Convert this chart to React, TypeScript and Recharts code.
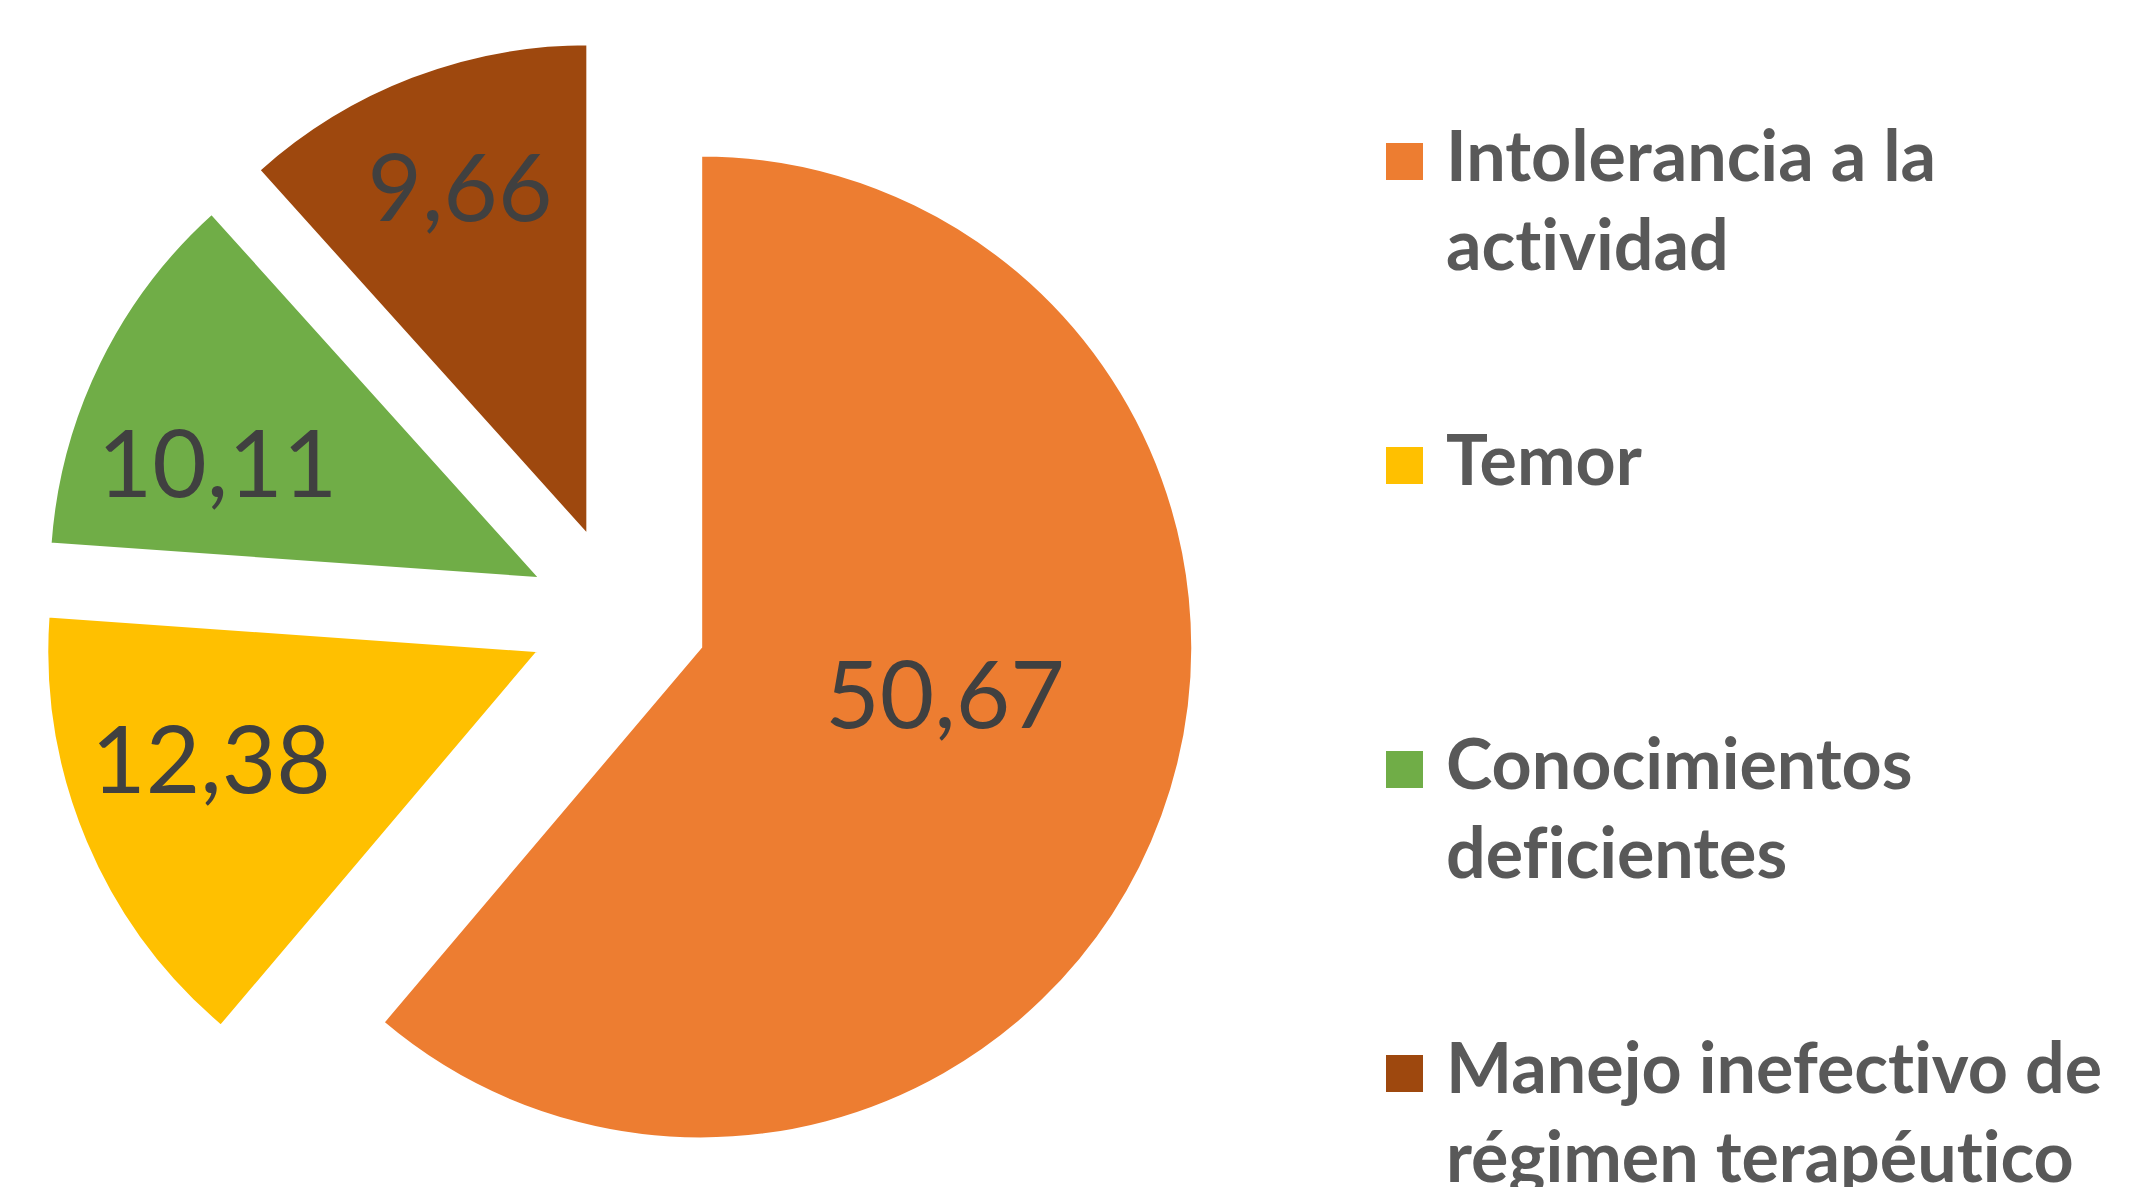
import { PieChart, Pie, Cell, Sector, Legend } from "recharts";

const categories = [
  "Intolerancia a la actividad",
  "Temor",
  "Conocimientos deficientes",
  "Manejo inefectivo de régimen terapéutico",
];
const values = [50.67, 12.38, 10.11, 9.66];
const colors = ["#ED7D31", "#FFC000", "#70AD47", "#9E480E"];

const data = categories.map((name, i) => ({ name, value: values[i] }));

const RADIAN = Math.PI / 180;
// every slice pulled out from the centre, like the Excel "point explosion"
const EXPLODE = 87;
// where each value label sits inside its slice (fraction of radius, angle nudge)
const LABEL_R = [0.505, 0.7, 0.7, 0.76];
const LABEL_TURN = [9.7, -5, 5.9, -1];

const fmt = (v: number) => v.toFixed(2).replace(".", ",");

function ExplodedSlice(props: any) {
  const { cx, cy, midAngle, innerRadius, outerRadius, startAngle, endAngle, fill, index } = props;
  const x0 = cx + EXPLODE * Math.cos(-midAngle * RADIAN);
  const y0 = cy + EXPLODE * Math.sin(-midAngle * RADIAN);
  const a = (midAngle + LABEL_TURN[index]) * RADIAN;
  const r = outerRadius * LABEL_R[index];
  const lx = x0 + r * Math.cos(-a);
  const ly = y0 + r * Math.sin(-a);

  return (
    <g>
      <Sector
        cx={x0}
        cy={y0}
        innerRadius={innerRadius}
        outerRadius={outerRadius}
        startAngle={startAngle}
        endAngle={endAngle}
        fill={fill}
        fillOpacity={1}
        stroke="#ffffff"
        strokeWidth={3}
      />
      <text
        x={lx}
        y={ly}
        textAnchor="middle"
        dominantBaseline="central"
        fill="#404040"
        stroke="none"
        style={{ fontFamily: "Lato", fontSize: 94, fontVariantLigatures: "none" }}
      >
        {fmt(values[index])}
      </text>
    </g>
  );
}

// legend kept in the original series order (recharts sorts its payload by name)
function LegendBox() {
  return (
    <div
      style={{
        fontFamily: "Lato",
        fontWeight: 700,
        fontSize: 70,
        lineHeight: "89px",
        color: "#595959",
        fontVariantLigatures: "none",
      }}
    >
      {categories.map((name, i) => (
        <div key={name} style={{ height: 304, display: "flex", alignItems: "flex-start" }}>
          <span
            style={{
              width: 37,
              height: 37,
              background: colors[i],
              marginTop: 33,
              marginRight: 23,
              flex: "none",
            }}
          />
          <span style={{ width: 690 }}>{name}</span>
        </div>
      ))}
    </div>
  );
}

export default function App() {
  return (
    <div
      style={{
        position: "absolute",
        left: 0,
        top: 0,
        width: 2153,
        height: 1187,
        overflow: "hidden",
        background: "#ffffff",
      }}
    >
      <PieChart width={2153} height={1187} margin={{ top: 0, right: 0, bottom: 0, left: 0 }}>
        <Pie
          data={data}
          dataKey="value"
          nameKey="name"
          cx={619}
          cy={617}
          outerRadius={492}
          startAngle={90}
          endAngle={-270}
          stroke="none"
          fillOpacity={0}
          label={ExplodedSlice}
          labelLine={false}
          isAnimationActive={false}
        >
          {data.map((d, i) => (
            <Cell key={d.name} fill={colors[i]} />
          ))}
        </Pie>
        <Legend
          layout="vertical"
          align="right"
          verticalAlign="top"
          content={LegendBox}
          wrapperStyle={{ left: 1386, top: 110, width: 760, height: "auto" }}
        />
      </PieChart>
    </div>
  );
}
